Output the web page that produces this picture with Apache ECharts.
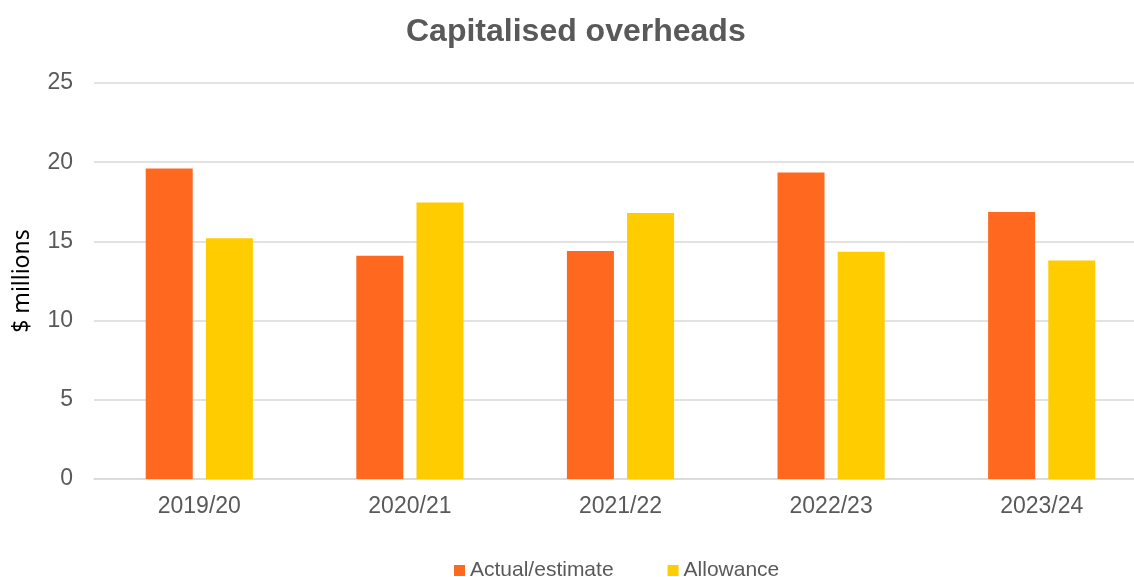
<!DOCTYPE html>
<html>
<head>
<meta charset="utf-8">
<script src="https://cdn.jsdelivr.net/npm/echarts@6/dist/echarts.min.js"></script>
<style>
  html, body { margin: 0; padding: 0; background: #fff; }
  #chart { width: 1134px; height: 577px; }
</style>
</head>
<body>
<div id="chart"></div>
<script>
// years on the x axis
const years = ['2019/20', '2020/21', '2021/22', '2022/23', '2023/24'];
// $ millions
const actualEstimate = [19.6, 14.1, 14.4, 19.35, 16.85];
const allowance = [15.2, 17.45, 16.8, 14.35, 13.8];
const yTicks = { min: 0, max: 25, interval: 5 };

const myecharts = echarts.init(document.getElementById('chart'));
const option = {
  animation: false,
  title: {
    text: 'Capitalised overheads',
    left: 406,
    top: 16,
    padding: 0,
    textStyle: {
      fontFamily: 'Liberation Sans',
      fontSize: 32,
      fontWeight: 'bold',
      color: '#595959'
    }
  },
  legend: {
    left: 449,
    top: 555,
    icon: 'rect',
    itemWidth: 11,
    itemHeight: 11,
    itemGap: 54,
    textStyle: {
      fontFamily: 'Liberation Sans',
      fontSize: 21,
      color: '#595959'
    },
    data: ['Actual/estimate', 'Allowance']
  },
  grid: {
    left: 94,
    width: 1053,
    top: 83,
    bottom: 98,
    outerBoundsMode: 'none'
  },
  xAxis: {
    type: 'category',
    data: years,
    axisTick: { show: false },
    axisLine: { lineStyle: { color: '#d9d9d9', width: 1.5 } },
    axisLabel: {
      margin: 16,
      fontFamily: 'Liberation Sans',
      fontSize: 23,
      color: '#595959'
    }
  },
  yAxis: {
    type: 'value',
    min: yTicks.min,
    max: yTicks.max,
    interval: yTicks.interval,
    name: '$ millions',
    nameLocation: 'middle',
    nameGap: 60,
    nameTextStyle: {
      fontFamily: 'Noto Sans',
      fontSize: 23,
      color: '#000'
    },
    axisLabel: {
      margin: 21,
      fontFamily: 'Liberation Sans',
      fontSize: 23,
      color: '#595959'
    },
    splitLine: { lineStyle: { color: '#d9d9d9', width: 1.5 } }
  },
  series: [
    {
      name: 'Actual/estimate',
      type: 'bar',
      data: actualEstimate,
      barWidth: 47,
      barGap: '28%',
      itemStyle: { color: '#ff681f' }
    },
    {
      name: 'Allowance',
      type: 'bar',
      data: allowance,
      barWidth: 47,
      itemStyle: { color: '#ffcc00' }
    }
  ]
};
myecharts.setOption(option);
</script>
</body>
</html>
